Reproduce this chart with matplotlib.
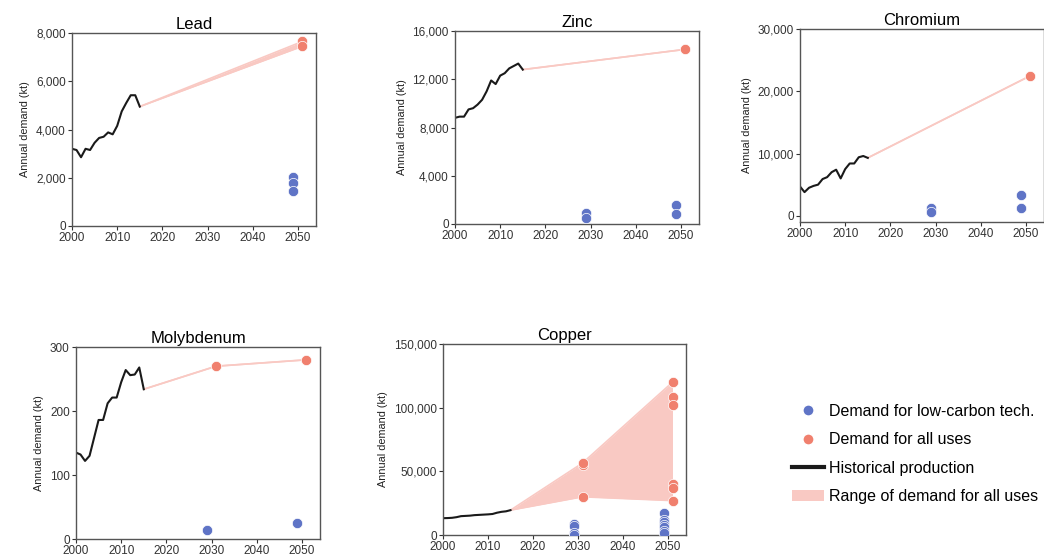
import matplotlib
matplotlib.use('Agg')
import matplotlib.pyplot as plt
from matplotlib.lines import Line2D
from matplotlib.patches import Patch
import numpy as np

plt.rcParams['font.family'] = ['Liberation Sans', 'DejaVu Sans']

years = list(range(2000, 2016))

# historical production (kt)
lead_hist = [3200, 3150, 2850, 3200, 3150, 3450, 3650, 3700, 3880, 3800, 4150, 4750, 5100, 5420, 5420, 4950]
zinc_hist = [8800, 8900, 8900, 9500, 9600, 9900, 10300, 11000, 11900, 11600, 12300, 12500, 12900, 13100, 13300, 12800]
chrom_hist = [4700, 3800, 4500, 4800, 5000, 5900, 6200, 7000, 7400, 6000, 7500, 8400, 8400, 9400, 9600, 9300]
moly_hist = [135, 132, 122, 130, 158, 186, 186, 212, 221, 221, 245, 264, 256, 257, 268, 234]
copper_hist = [13200, 13300, 13500, 14000, 14800, 15000, 15200, 15600, 15800, 16000, 16200, 16500, 17500, 18200, 18600, 19500]

# demand for all uses (red) per scenario year
lead_all = {2050: [7650, 7450]}
zinc_all = {2050: [14480]}
chrom_all = {2050: [22500]}
moly_all = {2030: [270], 2050: [280]}
copper_all = {2030: [55000, 56500, 30000], 2050: [120000, 108000, 102000, 40000, 37000, 27000]}

# demand for low-carbon tech (blue)
lead_low = {2050: [2050, 1800, 1450]}
zinc_low = {2030: [880, 470], 2050: [1570, 860]}
chrom_low = {2030: [1200, 600], 2050: [3400, 1200]}
moly_low = {2030: [14.5], 2050: [24.5]}
copper_low = {2030: [8500, 7000, 1500, 200], 2050: [17000, 12000, 10000, 8000, 6000, 3500, 1500]}

RED = '#f0806e'
BLUE = '#5f74c6'
PINK = '#f9c9c3'

panels = [
    ('Lead', lead_hist, lead_all, lead_low, (0, 8000), [0, 2000, 4000, 6000, 8000], [72, 226, 244, 193]),
    ('Zinc', zinc_hist, zinc_all, zinc_low, (0, 16000), [0, 4000, 8000, 12000, 16000], [455, 224, 244, 193]),
    ('Chromium', chrom_hist, chrom_all, chrom_low, (-1000, 30000), [0, 10000, 20000, 30000], [800, 222, 244, 193]),
    ('Molybdenum', moly_hist, moly_all, moly_low, (0, 300), [0, 100, 200, 300], [76, 539, 244, 192]),
    ('Copper', copper_hist, copper_all, copper_low, (0, 150000), [0, 50000, 100000, 150000], [443, 535, 243, 191]),
]

W, H = 1044, 558
fig = plt.figure(figsize=(W / 100, H / 100), dpi=100)

for name, hist, alluse, low, ylim, yticks, box in panels:
    l, b, w, h = box
    ax = fig.add_axes([l / W, (H - b) / H, w / W, h / H])
    # range of demand band
    bx = [years[-1]]
    lo = [hist[-1]]
    hi = [hist[-1]]
    for yr in sorted(alluse):
        bx.append(yr + 1)
        lo.append(min(alluse[yr]))
        hi.append(max(alluse[yr]))
    ax.fill_between(bx, lo, hi, color=PINK, lw=0, zorder=1)
    ax.plot(bx, lo, color=PINK, lw=1.2, zorder=1)
    ax.plot(bx, hi, color=PINK, lw=1.2, zorder=1)
    ax.plot(years, hist, color='#1a1a1a', lw=1.5, zorder=2)
    for yr, vals in alluse.items():
        ax.scatter([yr + 1] * len(vals), vals, s=55, color=RED, edgecolor='white', lw=0.5, zorder=3)
    for yr, vals in low.items():
        ax.scatter([yr - 1] * len(vals), vals, s=55, color=BLUE, edgecolor='white', lw=0.5, zorder=3)
    ax.set_xlim(2000, 2054)
    ax.set_ylim(*ylim)
    ax.set_xticks([2000, 2010, 2020, 2030, 2040, 2050])
    ax.set_yticks(yticks)
    ax.set_yticklabels([f'{v:,}' for v in yticks])
    ax.tick_params(labelsize=8.5, length=3, width=0.8, pad=1.5, colors='#333333', direction='out')
    ax.set_ylabel('Annual demand (kt)', fontsize=7.8, color='#222222')
    ax.set_title(name, fontsize=12, pad=3)
    for s in ax.spines.values():
        s.set_color('#555555')
        s.set_linewidth(1.0)

handles = [
    Line2D([], [], marker='o', ls='', color=BLUE, markersize=8, markeredgecolor='white'),
    Line2D([], [], marker='o', ls='', color=RED, markersize=8, markeredgecolor='white'),
    Line2D([], [], color='#1a1a1a', lw=3),
    Patch(facecolor=PINK, edgecolor='none'),
]
labels = ['Demand for low-carbon tech.', 'Demand for all uses', 'Historical production', 'Range of demand for all uses']
fig.legend(handles, labels, loc='center left', bbox_to_anchor=(778 / W, 1 - 454 / H),
           frameon=False, fontsize=11.5, handlelength=2.0, handletextpad=0.3, labelspacing=0.85)

fig.savefig('out.png', dpi=100)
